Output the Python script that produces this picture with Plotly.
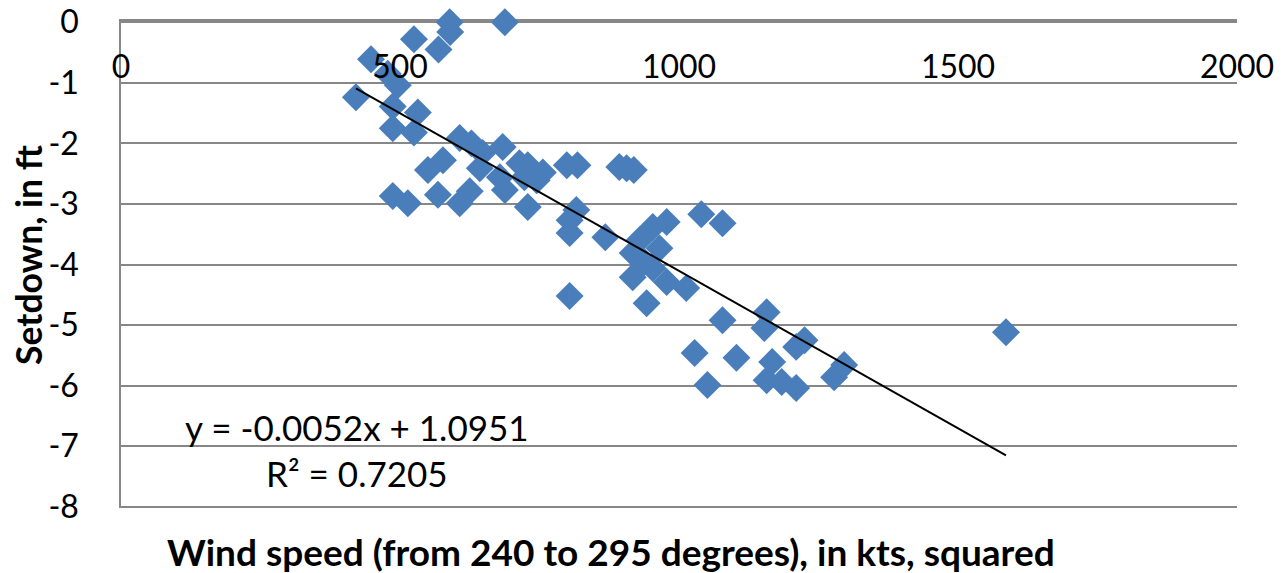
import plotly.graph_objects as go

# Data
WIND_SQ = [589, 688, 590, 525, 569, 448, 478, 496, 421, 487, 532, 487, 525,
           607, 628, 684, 648, 577, 550, 714, 729, 756, 799, 818, 643, 679, 688,
           723, 745, 568, 607, 625, 487, 514, 729, 816, 804, 804, 868, 804,
           893, 906, 919, 953, 978, 1040, 1078, 929, 965, 917, 938, 953, 917, 978,
           1013, 942, 1078, 1157, 1153, 1210, 1225, 1028, 1103, 1167, 1157, 1184,
           1210, 1051, 1278, 1296, 1586]
SETDOWN = [0.00, 0.00, -0.16, -0.28, -0.45, -0.61, -0.85, -1.04, -1.24, -1.39, -1.49, -1.75, -1.82,
           -1.91, -2.00, -2.06, -2.16, -2.28, -2.44, -2.33, -2.36, -2.48, -2.36, -2.36, -2.41, -2.56, -2.77,
           -2.56, -2.61, -2.85, -2.99, -2.79, -2.87, -2.99, -3.05, -3.10, -3.27, -3.48, -3.55, -4.52,
           -2.39, -2.41, -2.44, -3.38, -3.30, -3.17, -3.32, -3.60, -3.73, -3.81, -3.96, -4.06, -4.21, -4.29,
           -4.39, -4.64, -4.92, -4.79, -5.05, -5.36, -5.25, -5.46, -5.54, -5.61, -5.91, -5.94,
           -6.04, -5.99, -5.86, -5.66, -5.12]

SLOPE = -0.0052
INTERCEPT = 1.0951
R2 = 0.7205

X_TICKS = [0, 500, 1000, 1500, 2000]
Y_TICKS = [0, -1, -2, -3, -4, -5, -6, -7, -8]

FONT = "Lato"
GRID = "#878787"
BLUE = "#4A7EBB"

# The page adds an 8px body margin; plot area in the page spans x 121..1237, y 21..508
OFF = 8
PLOT_L, PLOT_T, PLOT_W, PLOT_H = 121, 21, 1116, 487

x_line = [min(WIND_SQ), max(WIND_SQ)]
y_line = [SLOPE * v + INTERCEPT for v in x_line]

fig = go.Figure()
fig.add_trace(go.Scatter(
    x=WIND_SQ, y=SETDOWN, mode="markers", cliponaxis=False,
    marker=dict(symbol="diamond", size=21.5, color=BLUE, line=dict(width=0)),
    showlegend=False, hoverinfo="x+y"))
# linear trendline, drawn on the overlaid top axis (same scale as x)
fig.add_trace(go.Scatter(
    x=x_line, y=y_line, mode="lines", xaxis="x2", yaxis="y",
    line=dict(color="black", width=2), showlegend=False, hoverinfo="skip"))


def px(xp):
    return (xp - PLOT_L) / PLOT_W


def py(yp):
    return 1 - (yp - PLOT_T) / PLOT_H


W, H = 1279, 565
fig.update_layout(
    width=W, height=H,
    margin=dict(l=PLOT_L - OFF, r=W - (PLOT_L - OFF) - PLOT_W, t=PLOT_T - OFF,
                b=H - (PLOT_T - OFF) - PLOT_H, autoexpand=False),
    paper_bgcolor="white", plot_bgcolor="white",
    font=dict(family=FONT, size=32, color="black"),
    xaxis=dict(
        range=[0, 2000], tickvals=X_TICKS, ticktext=[str(v) for v in X_TICKS],
        anchor="free", position=0.95, side="bottom", automargin=False,
        showgrid=False, zeroline=False, showline=False, ticks="",
        ticklabeloverflow="allow",
        tickfont=dict(family=FONT, size=32, color="black")),
    # horizontal (value) axis line, crossing at y = 0 (top of the plot)
    xaxis2=dict(
        range=[0, 2000], matches="x", overlaying="x", side="top", anchor="y",
        showline=True, linecolor=GRID, linewidth=1.5, layer="below traces",
        showgrid=False, zeroline=False, showticklabels=False, ticks="",
        automargin=False),
    yaxis=dict(
        range=[-8.02, 0.02], tickvals=Y_TICKS, ticktext=[str(v) for v in Y_TICKS],
        showgrid=True, gridcolor=GRID, gridwidth=1.5, automargin=False,
        zeroline=False, showline=True, linecolor=GRID, linewidth=1.5,
        layer="below traces",
        ticks="", ticklabelstandoff=34, ticklabeloverflow="allow",
        tickfont=dict(family=FONT, size=32, color="black")),
    annotations=[
        dict(text="<b>Setdown, in ft</b>", textangle=-90,
             xref="paper", yref="paper", x=px(28), y=py(255),
             xanchor="center", yanchor="middle", showarrow=False,
             font=dict(family=FONT, size=35.5, color="black")),
        dict(text="<b>Wind speed (from 240 to 295 degrees), in kts, squared</b>",
             xref="paper", yref="paper", x=px(611), y=py(551),
             xanchor="center", yanchor="middle", showarrow=False,
             font=dict(family=FONT, size=37, color="black")),
        dict(text=f"y = {SLOPE}x + {INTERCEPT}",
             xref="paper", yref="paper", x=px(357), y=py(427),
             xanchor="center", yanchor="middle", showarrow=False,
             font=dict(family=FONT, size=35, color="black")),
        dict(text=f"R² = {R2}",
             xref="paper", yref="paper", x=px(357), y=py(473),
             xanchor="center", yanchor="middle", showarrow=False,
             font=dict(family=FONT, size=35, color="black")),
    ],
)

fig.write_html("out.html")
